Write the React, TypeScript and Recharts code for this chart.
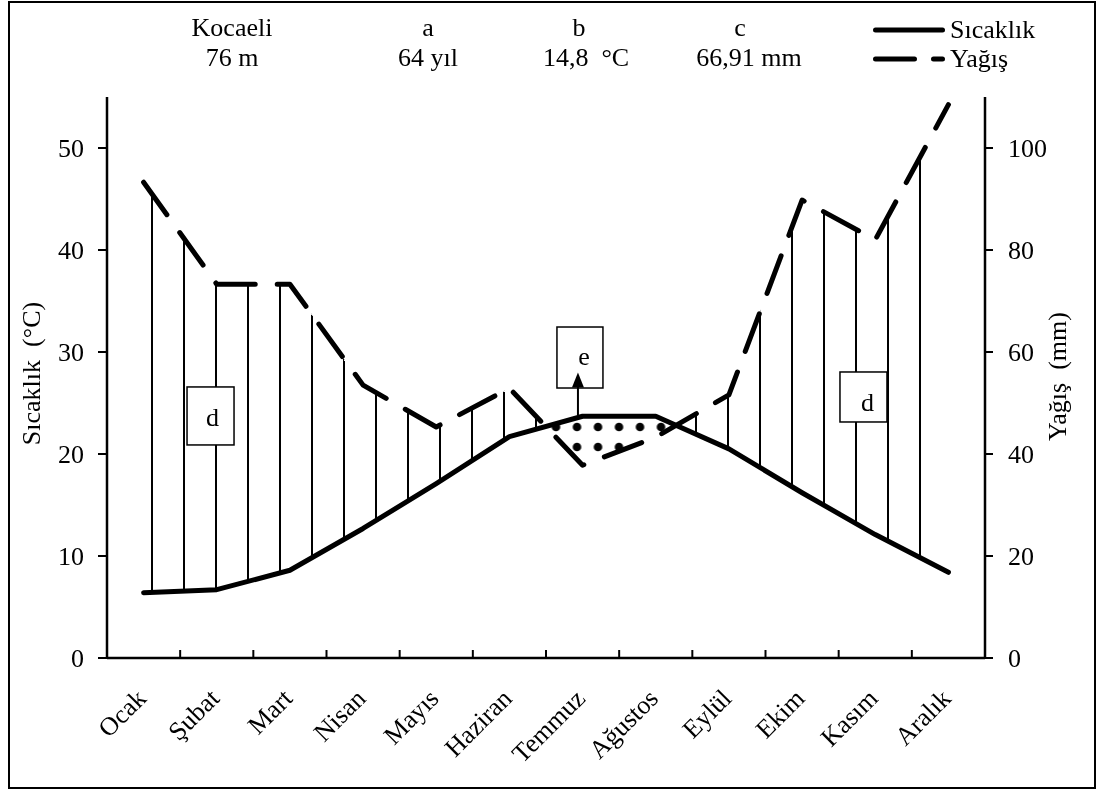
import React from "react";
import { ComposedChart, Line, Area, XAxis, YAxis, Legend, ReferenceDot, Label } from "recharts";

const MONTHS = ["Ocak", "Şubat", "Mart", "Nisan", "Mayıs", "Haziran", "Temmuz", "Ağustos", "Eylül", "Ekim", "Kasım", "Aralık"];
// monthly mean temperature (°C) and precipitation (mm)
const TEMP = [6.4, 6.7, 8.6, 12.7, 17.1, 21.7, 23.7, 23.7, 20.5, 16.2, 12.1, 8.4];
const PRECIP = [93.3, 73.3, 73.3, 53.5, 45.3, 52.9, 37.8, 43.3, 51.6, 89.8, 82.0, 108.5];

const TEMP_TICKS = [0, 10, 20, 30, 40, 50];
const PRECIP_TICKS = [0, 20, 40, 60, 80, 100];
// month labels sit at band centres, small tick marks at the band edges
const X_TICKS = MONTHS.flatMap((_, i) => (i === 0 ? [i + 0.5] : [i, i + 0.5]));

const HEADER_TOP = ["Kocaeli", "a", "b", "c"];
const HEADER_BOTTOM = ["76 m", "64 yıl", "14,8  °C", "66,91 mm"];
const HEADER_X = [232, 428, 586, 749];
const HEADER_TOP_DX = [0, 0, -7, -9];

const SERIES = [
  { key: "temp", name: "Sıcaklık", dash: undefined },
  { key: "precip", name: "Yağış", dash: "39 19" },
];

const FONT = '"Liberation Serif", Tinos, "Times New Roman", Times, "DejaVu Serif", serif';

const rows = MONTHS.map((m, i) => {
  const t2 = TEMP[i] * 2; // Walter-Lieth: 10 °C = 20 mm
  return {
    x: i + 0.5,
    month: m,
    temp: TEMP[i],
    precip: PRECIP[i],
    t2,
    dry: [Math.min(PRECIP[i], t2), t2],
  };
});

// fills stop a little under the lowest curve so the x axis line stays visible
const FILL_BASE = Math.floor(Math.min(...rows.map((r) => Math.min(r.t2, r.precip)))) - 2;

function MonthTick({ x, y, payload }: any) {
  const v = payload.value;
  if (Number.isInteger(v)) {
    // band edge: short mark pointing up into the plot (y is axis + 8)
    return <line x1={x} y1={y - 8} x2={x} y2={y - 16} stroke="#000" strokeWidth={2} />;
  }
  const label = MONTHS[Math.floor(v)];
  const ax = x + 4;
  const ay = y + 34;
  return (
    <text x={ax} y={ay} transform={`rotate(-45 ${ax} ${ay})`} textAnchor="end" fontSize={26} fontFamily={FONT} fill="#000">
      {label}
    </text>
  );
}

function NoteBox({ cx, cy, w, h, text, tx = 0, ty = 10, arrow = false }: any) {
  return (
    <g>
      <rect x={cx - w / 2} y={cy - h / 2} width={w} height={h} fill="#fff" stroke="#000" strokeWidth={1.5} />
      <text x={cx + tx} y={cy + ty} textAnchor="middle" fontSize={26} fontFamily={FONT} fill="#000">
        {text}
      </text>
      {arrow && (
        <g>
          <line x1={cx - 2} y1={cy + 58} x2={cx - 2} y2={cy + 28} stroke="#000" strokeWidth={2} />
          <polygon points={`${cx - 2},${cy + 15} ${cx - 8},${cy + 30} ${cx + 4},${cy + 30}`} fill="#000" />
        </g>
      )}
    </g>
  );
}

function LegendBox() {
  return (
    <div style={{ fontFamily: FONT, fontSize: 26, color: "#000" }}>
      {SERIES.map((s) => (
        <div key={s.key} style={{ display: "flex", alignItems: "center", height: 29, lineHeight: "29px" }}>
          <svg width={77} height={10} style={{ display: "block" }}>
            <line x1={2.5} y1={5} x2={69.5} y2={5} stroke="#000" strokeWidth={5} strokeLinecap="round" strokeDasharray={s.dash} />
          </svg>
          <span>{s.name}</span>
        </div>
      ))}
    </div>
  );
}

export default function App() {
  return (
    <div
      style={{
        position: "absolute",
        left: 8,
        top: 1,
        width: 1088,
        height: 788,
        boxSizing: "border-box",
        border: "2px solid #000",
        background: "#fff",
        fontFamily: FONT,
      }}
    >
      {/* white colour-dodge keeps pure black hatching and wipes the near-black dots below the rain curve */}
      <style>{`.wl-dodge .recharts-area-area, .wl-dodge path { mix-blend-mode: color-dodge; }`}</style>

      {HEADER_TOP.map((t, i) => (
        <div
          key={t}
          style={{
            position: "absolute",
            left: HEADER_X[i] - 10 - 90,
            top: 10,
            width: 180,
            textAlign: "center",
            fontSize: 26,
            lineHeight: "30px",
            whiteSpace: "pre",
            color: "#000",
          }}
        >
          <div style={{ position: "relative", left: HEADER_TOP_DX[i] }}>{t}</div>
          <div>{HEADER_BOTTOM[i]}</div>
        </div>
      ))}

      <ComposedChart width={1084} height={784} data={rows} margin={{ top: 94, right: 49, left: 37, bottom: 0 }}>
        <defs>
          <pattern id="hatch" patternUnits="userSpaceOnUse" width="32" height="12">
            <rect x="13" y="0" width="2" height="12" fill="#000" />
          </pattern>
          <pattern id="dots" patternUnits="userSpaceOnUse" x="556.5" y="414" width="21" height="20">
            <circle cx="10.5" cy="10" r="4.3" fill="#030303" />
          </pattern>
        </defs>

        <XAxis
          type="number"
          dataKey="x"
          domain={[0, 12]}
          ticks={X_TICKS}
          interval={0}
          tickLine={false}
          axisLine={{ stroke: "#000", strokeWidth: 2.5 }}
          tick={<MonthTick />}
          height={129}
        />
        <YAxis
          yAxisId="t"
          domain={[0, 55]}
          ticks={TEMP_TICKS}
          width={60}
          tickSize={9}
          tickMargin={14}
          axisLine={{ stroke: "#000", strokeWidth: 2.5 }}
          tickLine={{ stroke: "#000", strokeWidth: 2 }}
          tick={{ fill: "#000", fontSize: 26, fontFamily: FONT }}
        >
          <Label
            content={({ viewBox }: any) => {
              const lx = viewBox.x - 7;
              const ly = viewBox.y + viewBox.height / 2 - 4;
              return (
                <text x={lx} y={ly} transform={`rotate(-90 ${lx} ${ly})`} textAnchor="middle" fontSize={26} fontFamily={FONT} fill="#000" style={{ whiteSpace: "pre" }}>
                  {"Sıcaklık  (°C)"}
                </text>
              );
            }}
          />
        </YAxis>
        <YAxis
          yAxisId="p"
          orientation="right"
          domain={[0, 110]}
          ticks={PRECIP_TICKS}
          width={60}
          tickSize={8}
          tickMargin={15}
          axisLine={{ stroke: "#000", strokeWidth: 2.5 }}
          tickLine={{ stroke: "#000", strokeWidth: 2 }}
          tick={{ fill: "#000", fontSize: 26, fontFamily: FONT }}
        >
          <Label
            content={({ viewBox }: any) => {
              const lx = viewBox.x + 81;
              const ly = viewBox.y + viewBox.height / 2 - 1;
              return (
                <text x={lx} y={ly} transform={`rotate(-90 ${lx} ${ly})`} textAnchor="middle" fontSize={26} fontFamily={FONT} fill="#000" style={{ whiteSpace: "pre" }}>
                  {"Yağış  (mm)"}
                </text>
              );
            }}
          />
        </YAxis>

        <Legend
          layout="vertical"
          align="center"
          verticalAlign="middle"
          wrapperStyle={{ left: 863, top: 12, width: 200 }}
          content={() => <LegendBox />}
        />

        {/* humid period: hatching between the curves */}
        <Area yAxisId="p" type="linear" dataKey="precip" baseValue={FILL_BASE} stroke="none" fill="url(#hatch)" fillOpacity={1} isAnimationActive={false} legendType="none" />
        <Area yAxisId="p" type="linear" dataKey="t2" baseValue={FILL_BASE} stroke="none" fill="#fff" fillOpacity={1} isAnimationActive={false} legendType="none" />
        {/* dry period: dots between the curves */}
        <Area yAxisId="p" type="linear" dataKey="dry" stroke="none" fill="url(#dots)" fillOpacity={1} isAnimationActive={false} legendType="none" />
        <Area
          yAxisId="p"
          type="linear"
          dataKey="precip"
          baseValue={FILL_BASE}
          className="wl-dodge"
          stroke="none"
          fill="#fff"
          fillOpacity={1}
          isAnimationActive={false}
          legendType="none"
        />

        <Line yAxisId="t" type="linear" dataKey="temp" name="Sıcaklık" stroke="#000" strokeWidth={5} strokeLinecap="round" strokeLinejoin="round" dot={false} activeDot={false} isAnimationActive={false} />
        <Line yAxisId="p" type="linear" dataKey="precip" name="Yağış" stroke="#000" strokeWidth={5} strokeDasharray="40 22" strokeLinecap="round" strokeLinejoin="round" dot={false} activeDot={false} isAnimationActive={false} />

        <ReferenceDot yAxisId="t" x={1.415} y={23.73} r={1} shape={(p: any) => <NoteBox cx={p.cx} cy={p.cy} w={47} h={58} text="d" tx={2} ty={10} />} />
        <ReferenceDot yAxisId="t" x={10.339} y={25.59} r={1} shape={(p: any) => <NoteBox cx={p.cx} cy={p.cy} w={47} h={50} text="d" tx={4} ty={14} />} />
        <ReferenceDot yAxisId="t" x={6.464} y={29.46} r={1} shape={(p: any) => <NoteBox cx={p.cx} cy={p.cy} w={46} h={61} text="e" tx={4} ty={7} arrow />} />
      </ComposedChart>
    </div>
  );
}
